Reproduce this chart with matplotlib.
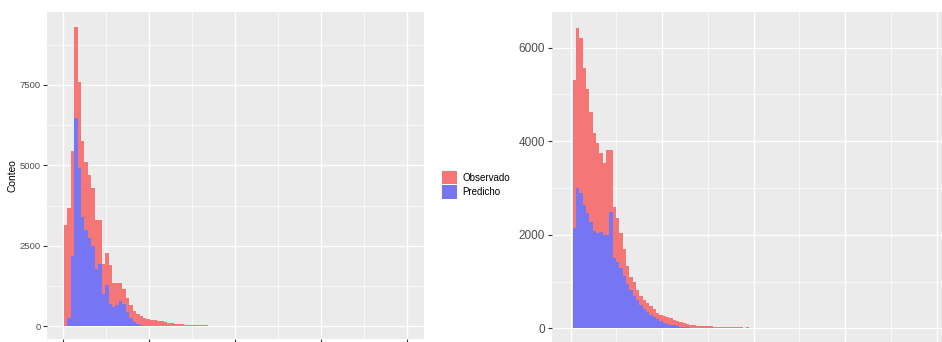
import matplotlib.pyplot as plt
import numpy as np
from matplotlib.patches import Patch

plt.rcParams['font.family'] = ['Liberation Sans', 'DejaVu Sans']

# left panel: bin counts (stacked histogram)
left_start = 0.01
left_binw = 0.04
left_pred = [0, 270, 2190, 6460, 4920, 3400, 3000, 2750, 2500, 1800,
             1950, 1000, 1300, 700, 600, 680, 780, 700, 450, 250,
             150, 80, 50, 30, 20, 15, 10, 8, 5, 5,
             3, 2, 0, 0, 0, 0, 0, 0, 0, 0, 0, 0]
left_obs = [3160, 3410, 3270, 2830, 2680, 2370, 2120, 1970, 1800, 1520,
            1370, 950, 980, 1200, 750, 670, 570, 450, 450, 430,
            320, 300, 270, 230, 200, 195, 180, 162, 155, 135,
            117, 98, 90, 80, 65, 60, 55, 45, 40, 40, 40, 35]

# right panel
right_start = 0.022
right_binw = 0.0364
right_pred = [2140, 2990, 2900, 2640, 2460, 2280, 2070, 2030, 2050, 2000,
              2000, 2490, 1500, 1420, 1300, 1120, 950, 820, 700, 600,
              500, 420, 350, 290, 240, 190, 150, 120, 95, 75,
              60, 45, 35, 28, 20, 15, 12, 9, 7, 5,
              4, 3, 2, 2, 1, 1, 0, 0, 0, 0,
              0, 0, 0, 0, 0, 0, 0]
right_obs = [3160, 3440, 3300, 2920, 2660, 2340, 2100, 1930, 1690, 1530,
             1810, 1320, 1090, 940, 740, 580, 390, 280, 280, 220,
             200, 190, 190, 190, 180, 140, 140, 140, 145, 135,
             120, 115, 95, 87, 80, 65, 55, 48, 44, 40,
             38, 36, 34, 32, 30, 28, 27, 26, 24, 22,
             20, 0, 18, 0, 0, 16, 15]

series_labels = ['Observado', 'Predicho']
obs_color = '#F57676'
pred_color = '#7676F5'
panel_bg = '#EBEBEB'

W, H = 942, 342
fig = plt.figure(figsize=(W / 100, H / 100), dpi=100)

ax1 = fig.add_axes([47 / W, 1 - 338.5 / H, 377 / W, (338.5 - 12) / H])
ax2 = fig.add_axes([551.7 / W, 0, (W - 551.7) / W, (H - 12.3) / H])


def draw_panel(ax, start, binw, pred, obs, yticks, yminor, ylim, xlim, tick_fs):
    pred = np.array(pred)
    obs = np.array(obs)
    edges = start + binw * np.arange(len(pred))
    ax.set_facecolor(panel_bg)
    ax.bar(edges, pred, width=binw, align='edge', color=pred_color, linewidth=0, zorder=3)
    ax.bar(edges, obs, width=binw, bottom=pred, align='edge', color=obs_color,
           linewidth=0, zorder=3)
    ax.set_xlim(*xlim)
    ax.set_ylim(*ylim)
    ax.set_xticks([0, 1, 2, 3, 4])
    ax.set_xticks([0.5, 1.5, 2.5, 3.5], minor=True)
    ax.set_xticklabels([])
    ax.set_yticks(yticks)
    ax.set_yticks(yminor, minor=True)
    ax.set_yticklabels([str(v) for v in yticks])
    ax.grid(which='major', color='white', linewidth=1.0, zorder=0)
    ax.grid(which='minor', color='white', linewidth=0.5, zorder=0)
    ax.set_axisbelow(True)
    for s in ax.spines.values():
        s.set_visible(False)
    ax.tick_params(which='major', length=3.2, width=0.8, color='#333333',
                   labelcolor='#4D4D4D', labelsize=tick_fs, pad=1.5)
    ax.tick_params(which='minor', length=0)


draw_panel(ax1, left_start, left_binw, left_pred, left_obs,
           [0, 2500, 5000, 7500], [1250, 3750, 6250, 8750],
           (-373, 9767), (-0.186, 4.198), 6.8)
ax1.set_ylabel('Conteo', fontsize=7.4, labelpad=1.5)

draw_panel(ax2, right_start, right_binw, right_pred, right_obs,
           [0, 2000, 4000, 6000], [1000, 3000, 5000],
           (-293, 6757), (-0.208, 4.058), 8.5)

handles = [Patch(facecolor=obs_color, edgecolor='none'),
           Patch(facecolor=pred_color, edgecolor='none')]
fig.legend(handles, series_labels, loc='upper left',
           bbox_to_anchor=(435 / W, 1 - 164 / H), frameon=False,
           fontsize=7, handlelength=1.6, handleheight=1.75,
           handletextpad=0.5, labelspacing=0.1, borderpad=0.2)

fig.savefig('out.png', dpi=100)
